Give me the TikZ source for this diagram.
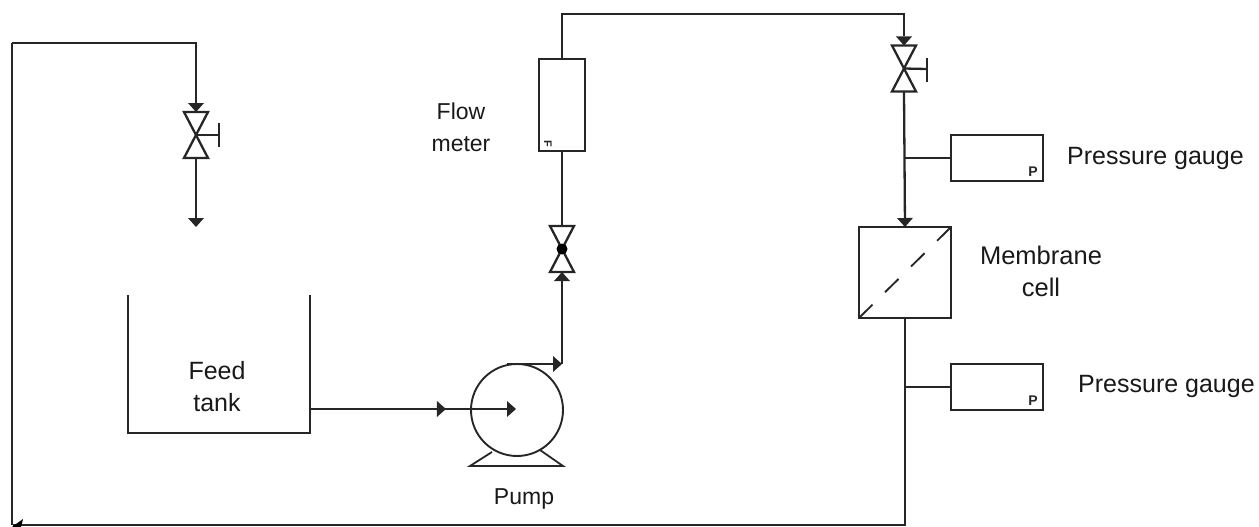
\documentclass[tikz,border=0pt]{standalone}
\usepackage{fontspec}
\setmainfont{Liberation Sans}
\usetikzlibrary{arrows.meta,decorations.markings}
\tikzset{
  x=1pt,y=-1pt,
  pipe/.style={line width=2.3pt,draw=black!85},
  thinpipe/.style={line width=1.8pt,draw=black!85},
  tipped/.style={-{Triangle[length=9pt,width=16pt,line width=0pt]}},
  midtip/.style={postaction={decorate},decoration={markings,mark=at position #1 with {\arrow{Triangle[length=9pt,width=16pt,line width=0pt]}}}},
  valvebox/.style={rectangle,minimum width=24pt,minimum height=46pt,inner sep=0pt,outer sep=0pt},
  boxunit/.style={rectangle,draw=black!85,line width=2.3pt,inner sep=0pt,outer sep=0pt},
  gauge/.style={boxunit,minimum width=92pt,minimum height=46pt,line width=1.9pt},
  lab/.style={font=\fontsize{#1}{32}\selectfont,align=center,inner sep=0pt,text=black!90},
  lab/.default=25,
  tagmark/.style={font=\bfseries\fontsize{14}{14}\selectfont,inner sep=0pt,text=black!85}
}
\begin{document}
\begin{tikzpicture}
\useasboundingbox (0,0) rectangle (1259,527);
% valves
\node[valvebox] (v1) at (196,135) {};
\node[valvebox] (v2) at (562,249) {};
\node[valvebox] (v3) at (904,68.5) {};
\foreach \v in {v1,v2,v3}
  \draw[pipe,line join=miter] (\v.north west)--(\v.north east)--(\v.south west)--(\v.south east)--cycle;
\fill[black] (v2.center) circle (5.5pt);
% handwheels
\coordinate (h1) at (219,135);
\coordinate (h3) at (927,69);
\draw[pipe] (v1.center)--(h1);
\draw[pipe] (v3.center)--(h3);
\draw[pipe] (219,123)--(219,147);
\draw[pipe] (927,58)--(927,82);
% units
\node[boxunit,minimum width=46pt,minimum height=92pt] (fm) at (562,105) {};
\node[boxunit,minimum width=92pt,minimum height=91pt] (mc) at (905,272.5) {};
\node[gauge] (g1) at (997,158) {};
\node[gauge] (g2) at (997,387) {};
\draw[line width=1.9pt,draw=black!85,dash pattern=on 19pt off 17.6pt] (mc.south west)--(mc.north east);
% tank
\coordinate (tl) at (128,295);
\coordinate (tbl) at (128,433);
\coordinate (tbr) at (310,433);
\coordinate (tr) at (310,295);
\draw[pipe] (tl)--(tbl)--(tbr)--(tr);
% pump
\node[circle,draw=black!85,line width=1.9pt,minimum size=92pt,inner sep=0pt,outer sep=0pt] (pump) at (517,410) {};
\coordinate (pb1) at (492,452);
\coordinate (pb2) at (470,466);
\coordinate (pb3) at (563,466);
\coordinate (pb4) at (540,450);
\draw[thinpipe] (pb1)--(pb2)--(pb3)--(pb4);
% junctions / free ends
\coordinate (recircL) at (12,43);
\coordinate (recircT) at (196,43);
\coordinate (fall) at (196,227);
\coordinate (tankout) at (310,409);
\coordinate (pumpeye) at (516,409);
\coordinate (pumpout) at (507,364);
\coordinate (elbow) at (562,364);
\coordinate (topL) at (562,14);
\coordinate (topR) at (904,14);
\coordinate (j1) at (905,158);
\coordinate (j2) at (905,387);
\coordinate (botR) at (905,525);
\coordinate (botL) at (13,525);
\coordinate (leftB) at (12,525);
% connectors
\draw[pipe,tipped] (recircL)--(recircT)--(v1.north);
\draw[pipe,tipped] (v1.south)--(fall);
\draw[thinpipe,tipped,midtip=0.66] (tankout)--(pumpeye);
\draw[thinpipe,tipped] (pumpout)--(elbow);
\draw[pipe,tipped] (elbow)--(v2.south);
\draw[pipe] (v2.north)--(fm.south);
\draw[pipe,tipped] (fm.north)--(topL)--(topR)--(v3.north);
\draw[pipe,tipped] (v3.south)--(mc.north);
\draw[thinpipe] (j1)--(g1.west);
\draw[thinpipe] (j2)--(g2.west);
\draw[pipe] (mc.south)--(botR)--(botL);
\draw[pipe] (leftB)--(recircL);
\fill[black] (12,527)--(23,519)--(21,527)--cycle;
% labels
\node[lab=23] (lflow) at (461,127) {Flow\\meter};
\node[lab=25] (lfeed) at (217,387) {Feed\\tank};
\node[lab=23] (lpump) at (524,499) {Pump};
\node[lab=25.5] (lmem) at (1041,271) {Membrane\\cell};
\node[lab=25,anchor=west] (lg1) at (1067,158) {Pressure gauge};
\node[lab=25,anchor=west] (lg2) at (1078,386) {Pressure gauge};
\node[tagmark] (tg1) at (1033,172) {P};
\node[tagmark] (tg2) at (1033,401) {P};
\node[tagmark,rotate=-90,font=\bfseries\fontsize{11}{11}\selectfont] (tf) at (548,143.5) {F};
\end{tikzpicture}
\end{document}
